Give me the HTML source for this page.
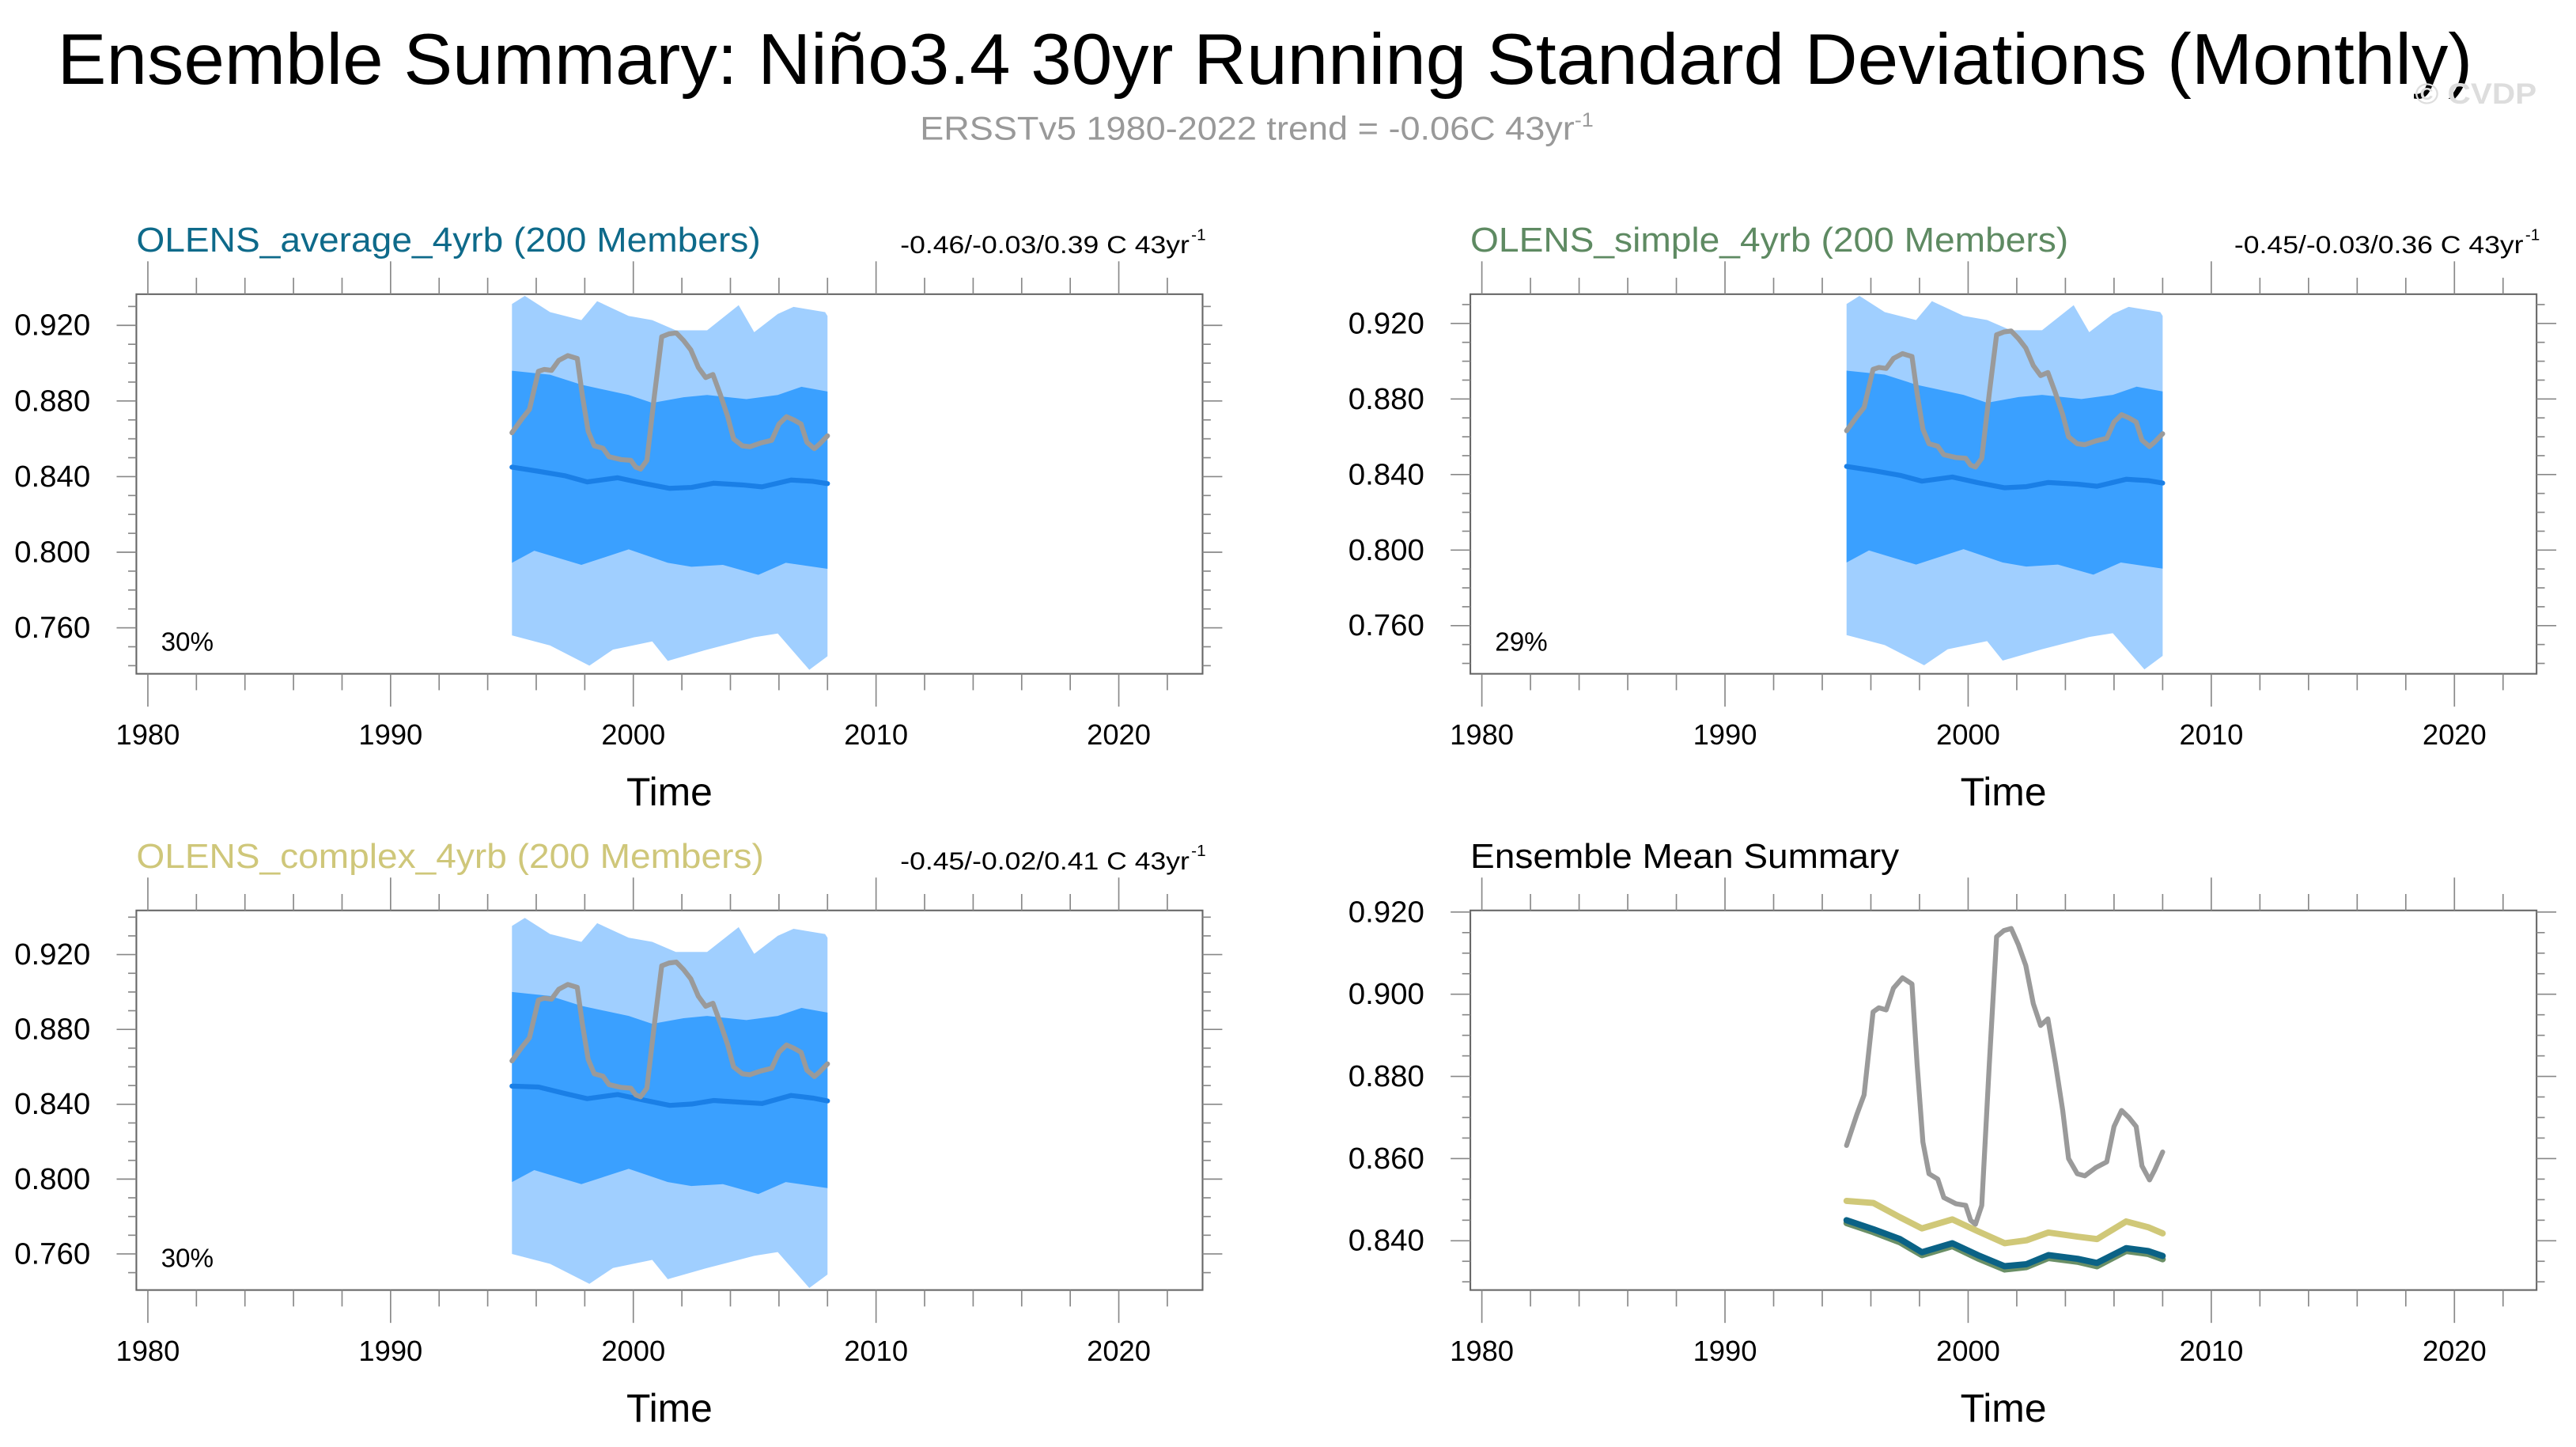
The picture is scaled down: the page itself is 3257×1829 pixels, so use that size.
<!DOCTYPE html>
<html><head><meta charset="utf-8"><style>
html,body{margin:0;padding:0;background:#fff}
svg{display:block}
text{font-family:"Liberation Sans",sans-serif}
</style></head><body>
<svg id="fig" width="3257" height="1829" viewBox="0 0 1568 880.5" xmlns="http://www.w3.org/2000/svg">
<text x="35" y="51" font-size="44" textLength="1470" lengthAdjust="spacingAndGlyphs">Ensemble Summary: Niño3.4 30yr Running Standard Deviations (Monthly)</text>
<text x="560" y="85" font-size="20" fill="#999" textLength="410" lengthAdjust="spacingAndGlyphs">ERSSTv5 1980-2022 trend = -0.06C 43yr<tspan dy="-8" font-size="12">-1</tspan></text>
<text x="1470" y="63" font-size="18" font-weight="bold" fill="#ddd" textLength="74" lengthAdjust="spacingAndGlyphs">© CVDP</text>
</svg>
<script>
const NS="http://www.w3.org/2000/svg";
const svg=document.getElementById('fig');
// Observed (ERSSTv5) running std
const obsYears=[1995.0,1995.42,1995.72,1996.09,1996.33,1996.63,1996.93,1997.3,1997.69,1997.9,1998.14,1998.39,1998.75,1999.0,1999.5,1999.9,2000.1,2000.3,2000.56,2000.87,2001.17,2001.47,2001.77,2002.07,2002.37,2002.68,2002.98,2003.28,2003.59,2003.89,2004.13,2004.49,2004.8,2005.25,2005.7,2006.0,2006.31,2006.61,2006.91,2007.15,2007.46,2007.67,2008.0];
const obsValues=[0.8632,0.8707,0.8755,0.8957,0.8967,0.8962,0.9015,0.904,0.9025,0.883,0.864,0.8563,0.855,0.8505,0.849,0.8486,0.845,0.844,0.8486,0.883,0.914,0.9155,0.916,0.912,0.907,0.8977,0.8924,0.894,0.8832,0.8717,0.860,0.8563,0.8558,0.8578,0.8592,0.8678,0.8717,0.870,0.8678,0.8582,0.8548,0.8572,0.8616];
// Ensemble means
const meanYears=[1995.0,1996.1,1997.2,1998.1,1999.35,2000.4,2001.5,2002.4,2003.3,2004.5,2005.3,2006.5,2007.4,2008.0];
const meanAverage=[0.845,0.8428,0.8404,0.8372,0.8394,0.8365,0.8338,0.8343,0.8365,0.8356,0.8346,0.8382,0.8375,0.8363];
const meanSimple=[0.8443,0.8421,0.8396,0.8365,0.8387,0.8357,0.8330,0.8336,0.8358,0.8349,0.8338,0.8375,0.8368,0.8355];
const meanComplex=[0.8497,0.8492,0.8457,0.843,0.8452,0.8423,0.8394,0.8401,0.842,0.841,0.8404,0.8447,0.8433,0.8418];
// Ensemble spread bands
const outerUpYears=[1995.0,1995.53,1996.57,1997.86,1998.51,1999.81,2000.78,2001.75,2003.04,2004.34,2004.98,2005.95,2006.6,2007.9,2008.0];
const outerUp=[0.9313,0.9356,0.927,0.9228,0.9328,0.925,0.9228,0.9174,0.9174,0.9307,0.9164,0.926,0.9298,0.927,0.925];
const innerUpYears=[1995.0,1996.57,1997.86,1999.81,2000.78,2002.07,2003.04,2004.66,2005.95,2006.93,2008.0];
const innerUp=[0.896,0.8939,0.8886,0.8832,0.879,0.882,0.8832,0.881,0.8832,0.8875,0.885];
const innerLoYears=[1995.0,1995.92,1997.86,1999.81,2001.42,2002.39,2003.69,2005.15,2006.28,2008.0];
const innerLo=[0.7944,0.8008,0.7933,0.8015,0.7944,0.7923,0.7933,0.788,0.7944,0.7912];
const outerLoYears=[1995.0,1996.57,1998.19,1999.16,2000.78,2001.42,2003.04,2004.34,2004.98,2005.95,2007.25,2008.0];
const outerLo=[0.756,0.7507,0.740,0.7485,0.7528,0.7425,0.7485,0.7528,0.755,0.757,0.7378,0.745];
const xTicks=[1980,1990,2000,2010,2020];
const yTicksA=[0.760,0.800,0.840,0.880,0.920];
const yTicksB=[0.840,0.860,0.880,0.900,0.920];

function el(tag,attrs,parent){const e=document.createElementNS(NS,tag);for(const k in attrs)e.setAttribute(k,attrs[k]);(parent||svg).appendChild(e);return e;}
function txt(s,attrs,parent){const e=el('text',attrs,parent);e.textContent=s;return e;}

function panel(cfg){
  const g=el('g',{});
  
  
  const {x0,x1,y0,y1,ymin,ymax}=cfg;
  const X=y=>cfg.px1980+(y-1980)*cfg.pxYear;
  const Y=v=>y1-(v-ymin)/(ymax-ymin)*(y1-y0);
  const clip='c'+cfg.name;
  const cp=el('clipPath',{id:clip},g);el('rect',{x:x0,y:y0,width:x1-x0,height:y1-y0},cp);
  const dg=el('g',{'clip-path':'url(#'+clip+')'},g);
  function band(upY,up,loY,lo,fill,off,nm){
    let d='M'+upY.map((yr,i)=>X(yr).toFixed(2)+','+Y(up[i]+off).toFixed(2)).join('L');
    for(let i=loY.length-1;i>=0;i--)d+='L'+X(loY[i]).toFixed(2)+','+Y(lo[i]+off).toFixed(2);
    const p=el('path',{d:d+'Z',fill:fill},dg);
    
    
  }
  function line(xs,ys,col,w,nm){
    const p=el('path',{d:'M'+xs.map((yr,i)=>X(yr).toFixed(2)+','+Y(ys[i]).toFixed(2)).join('L'),fill:'none',stroke:col,'stroke-width':w,'stroke-linejoin':'round','stroke-linecap':'round'},dg);
    
    
  }
  if(cfg.bands){
    const o=cfg.off;
    band(outerUpYears,outerUp,outerLoYears,outerLo,'#a0cfff',o,'outer-spread-band');
    band(innerUpYears,innerUp,innerLoYears,innerLo,'#3aa0ff',o,'inner-spread-band');
    line(meanYears,cfg.mean,'#1a7fe6',3,'ensemble-mean-line');
    line(obsYears,obsValues,'#9a9a9a',3,'observed-line');
  } else {
    line(obsYears,obsValues,'#9a9a9a',3,'observed-line');
    line(meanYears,meanComplex,'#d0c878',3.8,'complex-mean-line');
    line(meanYears,meanSimple,'#6a8f66',3.8,'simple-mean-line');
    line(meanYears,meanAverage,'#0a6286',3.8,'average-mean-line');
  }
  el('rect',{x:x0,y:y0,width:x1-x0,height:y1-y0,fill:'none',stroke:'#666','stroke-width':1},g);
  for(let yr=1980;yr<=2022;yr+=2){
    const xx=X(yr);const L=(yr%10===0)?20:10;
    el('line',{x1:xx,x2:xx,y1:y0,y2:y0-L,stroke:'#888','stroke-width':0.8},g);
    el('line',{x1:xx,x2:xx,y1:y1,y2:y1+L,stroke:'#888','stroke-width':0.8},g);
  }
  xTicks.forEach(yr=>{const t=txt(String(yr),{x:X(yr),y:y1+43,'font-size':17.5,'text-anchor':'middle'},g);
    });
  const st=cfg.minor;
  for(let v=Math.ceil(ymin/st-1e-6)*st;v<=ymax+1e-9;v+=st){
    const yy=Y(v);const major=cfg.yticks.some(t=>Math.abs(t-v)<1e-6);const L=major?12:5;
    el('line',{x1:x0,x2:x0-L,y1:yy,y2:yy,stroke:'#888','stroke-width':0.8},g);
    el('line',{x1:x1,x2:x1+L,y1:yy,y2:yy,stroke:'#888','stroke-width':0.8},g);
  }
  cfg.yticks.forEach(v=>{const t=txt(v.toFixed(3),{x:x0-28,y:Y(v)+6,'font-size':18.5,'text-anchor':'end'},g);
    });
  const tt=txt('Time',{x:(x0+x1)/2,y:y1+80,'font-size':24,'text-anchor':'middle'},g);
  
  const ta={x:x0,y:y0-26,'font-size':21,fill:cfg.tcol};
  if(cfg.tlen){ta.textLength=cfg.tlen;ta.lengthAdjust='spacingAndGlyphs';}
  const ti=txt(cfg.title,ta,g);
  
  if(cfg.trend){
    const tr=txt(cfg.trend,{x:x0+465,y:y0-25,'font-size':15,textLength:176,lengthAdjust:'spacingAndGlyphs'},g);
    
    const sp=txt('-1',{x:x1+2,y:y0-33,'font-size':10,'text-anchor':'end'},g);
    
  }
  if(cfg.pct){const p=txt(cfg.pct,{x:x0+15,y:y1-14,'font-size':16},g);
    }
}
panel({name:'panel-average',x0:83,x1:732,y0:179,y1:410,px1980:90,pxYear:14.775,ymin:0.7357,ymax:0.9365,yticks:yTicksA,minor:0.01,bands:true,off:0,mean:meanAverage,title:'OLENS_average_4yrb (200 Members)',tlen:380,tcol:'#0e6a8a',trend:'-0.46/-0.03/0.39 C 43yr',pct:'30%'});
panel({name:'panel-simple',x0:895,x1:1544,y0:179,y1:410,px1980:902,pxYear:14.8,ymin:0.7345,ymax:0.9355,yticks:yTicksA,minor:0.01,bands:true,off:-0.001,mean:meanSimple,title:'OLENS_simple_4yrb (200 Members)',tlen:364,tcol:'#5e8a62',trend:'-0.45/-0.03/0.36 C 43yr',pct:'29%'});
panel({name:'panel-complex',x0:83,x1:732,y0:554,y1:785,px1980:90,pxYear:14.775,ymin:0.7407,ymax:0.9436,yticks:yTicksA,minor:0.01,bands:true,off:0.004,mean:meanComplex,title:'OLENS_complex_4yrb (200 Members)',tlen:382,tcol:'#cfc77a',trend:'-0.45/-0.02/0.41 C 43yr',pct:'30%'});
panel({name:'panel-ensemble-mean',x0:895,x1:1544,y0:554,y1:785,px1980:902,pxYear:14.8,ymin:0.828,ymax:0.9204,yticks:yTicksB,minor:0.005,bands:false,title:'Ensemble Mean Summary',tlen:261,tcol:'#000'});
</script>
</body></html>
